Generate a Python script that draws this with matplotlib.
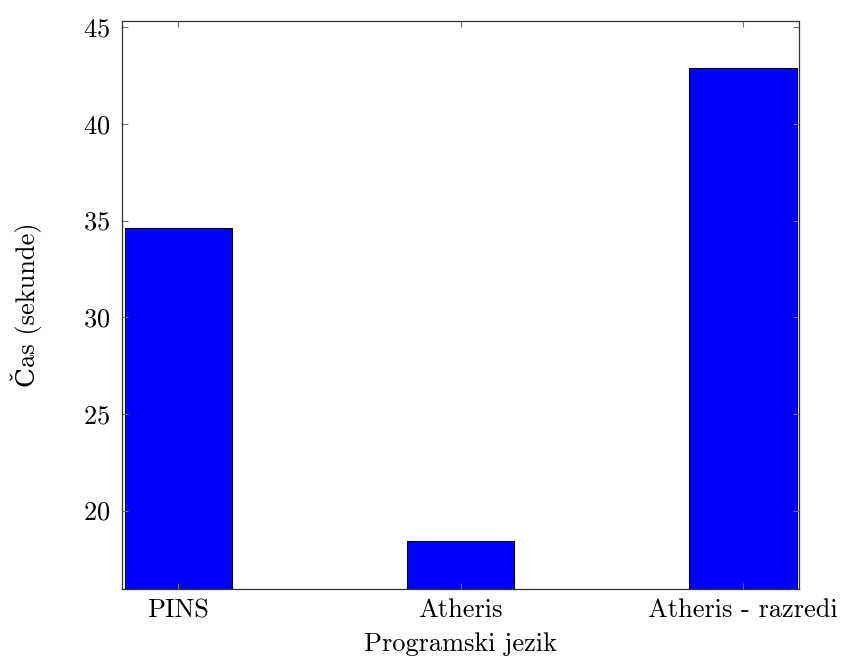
import matplotlib.pyplot as plt

# data
languages = ["PINS", "Atheris", "Atheris - razredi"]
times = [34.6, 18.42, 42.88]

plt.rcParams['font.family'] = ['cmr10', 'DejaVu Serif']
plt.rcParams['mathtext.fontset'] = 'cm'
plt.rcParams['axes.formatter.use_mathtext'] = True

fig = plt.figure(figsize=(8.45, 6.65), dpi=100)
ax = fig.add_axes([0.144, 0.1143, 0.802, 0.8546])

x = list(range(len(languages)))
ax.bar(x, times, width=0.38, color=(0, 0, 1), edgecolor='black', linewidth=0.8)

ax.set_xlim(-0.2, 2.2)
ax.set_ylim(15.94, 45.34)
ax.set_xticks(x)
ax.set_xticklabels(languages)
ax.set_yticks([20, 25, 30, 35, 40, 45])

ax.tick_params(direction='in', top=True, right=True, length=4, width=0.8,
               color='#777777', labelsize=19)
ax.tick_params(axis='x', pad=7)
ax.tick_params(axis='y', pad=8)
for s in ax.spines.values():
    s.set_linewidth(0.9)
    s.set_color('#333333')

ax.set_xlabel("Programski jezik", fontsize=19, labelpad=7)
ax.set_ylabel("Čas (sekunde)", fontsize=19, labelpad=30)

fig.savefig("out.png", dpi=100)
